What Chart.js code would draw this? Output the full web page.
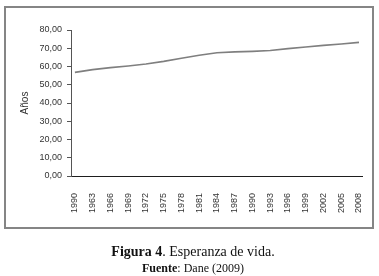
<!DOCTYPE html>
<html>
<head>
<meta charset="utf-8">
<script src="https://cdn.jsdelivr.net/npm/chart.js@4/dist/chart.umd.min.js"></script>
<style>
  html, body { margin: 0; padding: 0; background: #fff; }
  body { width: 379px; height: 276px; position: relative; overflow: hidden; }
  #frame { position: absolute; left: 4px; top: 6px; width: 366px; height: 219px; border: 2px solid #858585; }
  #wrap { position: absolute; left: 0; top: 0; width: 379px; height: 276px; }
  .cap { position: absolute; left: 0; width: 386px; text-align: center; font-family: "Liberation Serif", "Times New Roman", serif; color: #111; white-space: nowrap; }
  #cap1 { top: 244px; font-size: 14px; }
  #cap2 { top: 261px; font-size: 12px; }
</style>
</head>
<body>
<div id="frame"></div>
<div id="wrap"><canvas id="c" width="379" height="276"></canvas></div>
<div class="cap" id="cap1"><b>Figura 4</b>. Esperanza de vida.</div>
<div class="cap" id="cap2"><b>Fuente</b>: Dane (2009)</div>
<script>
const categories = ["1990","1963","1966","1969","1972","1975","1978","1981","1984","1987","1990","1993","1996","1999","2002","2005","2008"];
const lifeExpectancy = [56.8, 58.3, 59.4, 60.3, 61.4, 62.8, 64.5, 66.2, 67.5, 68.0, 68.3, 68.8, 69.8, 70.7, 71.6, 72.3, 73.2];
const yTicks = [0, 10, 20, 30, 40, 50, 60, 70, 80];
const yTitle = "Años";

const points = categories.map((c, i) => ({ x: i, y: lifeExpectancy[i] }));
const tickFont = { family: "'Liberation Sans', Arial, sans-serif", size: 9 };

new Chart(document.getElementById('c'), {
  type: 'line',
  data: {
    datasets: [{
      data: points,
      borderColor: '#7f7f7f',
      borderWidth: 1.6,
      pointRadius: 0,
      tension: 0,
      fill: false
    }]
  },
  options: {
    responsive: false,
    animation: false,
    devicePixelRatio: 1,
    layout: { padding: { top: 30, right: 16, bottom: 0, left: 0 } },
    plugins: { legend: { display: false }, tooltip: { enabled: false } },
    scales: {
      x: {
        type: 'linear',
        min: -0.22,
        max: categories.length - 1 + 0.22,
        afterBuildTicks: (s) => { s.ticks = categories.map((c, i) => ({ value: i })); },
        afterFit: (s) => { s.height = 100; },
        grid: { display: false },
        border: { display: true, color: '#1e1e1e', width: 1 },
        ticks: {
          minRotation: 90, maxRotation: 90, autoSkip: false, padding: 9,
          color: '#333', font: tickFont,
          callback: (v) => categories[v] ?? ''
        }
      },
      y: {
        min: 0, max: 80,
        afterBuildTicks: (s) => { s.ticks = yTicks.map(v => ({ value: v })); },
        afterFit: (s) => { s.width = 71; },
        grid: { drawOnChartArea: false, drawTicks: true, tickLength: 4, color: '#555' },
        border: { display: true, color: '#555', width: 1 },
        ticks: {
          padding: 5, color: '#333', font: tickFont,
          callback: (v) => v.toFixed(2).replace('.', ',')
        },
        title: {
          display: true, text: yTitle, color: '#333',
          font: { family: "'Liberation Sans', Arial, sans-serif", size: 10 },
          padding: { top: 19, bottom: 0 }
        }
      }
    }
  }
});
</script>
</body>
</html>
